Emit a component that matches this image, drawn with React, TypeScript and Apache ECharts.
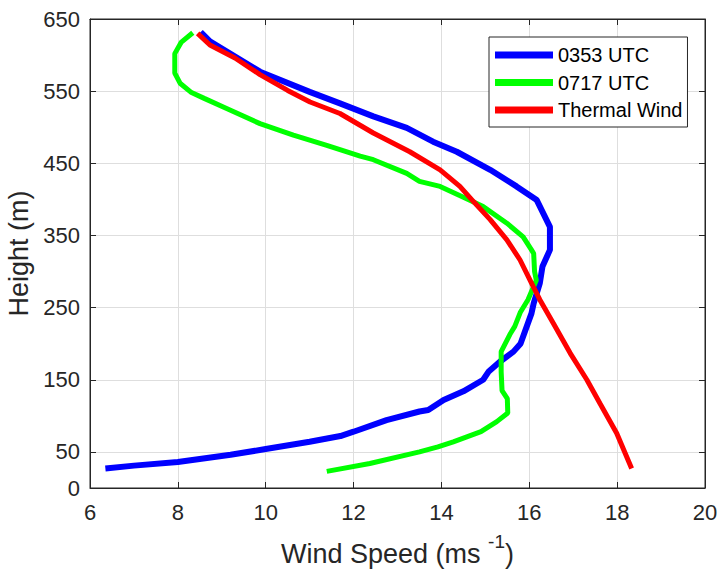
import React, { useEffect, useRef } from "react";
import * as echarts from "echarts";

// 0353 UTC
const blueSpeed = [6.35, 7.0, 8.0, 9.2, 10.0, 11.0, 11.7, 12.0, 12.75, 13.5, 13.7, 14.05, 14.5, 14.95, 15.07, 15.33, 15.64, 15.8, 16.05, 16.1, 16.24, 16.3, 16.47, 16.47, 16.17, 15.71, 15.11, 14.35, 13.81, 13.21, 12.45, 11.69, 11.0, 9.87, 8.73, 8.52];
const blueHeight = [27, 31, 36, 46, 54, 64, 72, 78, 94, 106, 108, 122, 134, 150, 161, 175, 189, 200, 242, 256, 284, 307, 330, 362, 399, 418, 441, 466, 480, 499, 515, 533, 549, 577, 619, 632];

// 0717 UTC
const greenSpeed = [11.39, 12.37, 13.5, 13.92, 14.27, 14.9, 15.26, 15.51, 15.5, 15.38, 15.36, 15.36, 15.56, 15.67, 15.8, 15.97, 16.16, 16.12, 16.1, 16.05, 15.86, 15.49, 14.95, 14.5, 13.97, 13.5, 13.21, 12.45, 12.15, 11.39, 10.63, 9.87, 9.11, 8.6, 8.31, 8.05, 7.93, 7.93, 8.08, 8.34];
const greenHeight = [23, 34, 50, 57, 64, 78, 92, 104, 124, 135, 161, 189, 213, 224, 244, 261, 288, 300, 325, 330, 348, 367, 390, 403, 418, 425, 436, 455, 460, 475, 489, 505, 526, 540, 548, 561, 575, 602, 618, 631];

// Thermal Wind
const redSpeed = [8.45, 8.73, 9.3, 9.87, 10.5, 11.01, 11.69, 12.45, 13.28, 13.97, 14.42, 14.73, 15.11, 15.49, 15.79, 16.09, 16.24, 16.55, 16.93, 17.31, 17.61, 17.99, 18.33];
const redHeight = [630, 614, 596, 573, 551, 535, 519, 492, 466, 441, 418, 397, 372, 344, 316, 279, 261, 228, 187, 150, 117, 76, 27];

const seriesNames = ["0353 UTC", "0717 UTC", "Thermal Wind"];
const yTickValues = [0, 50, 150, 250, 350, 450, 550, 650];

const FONT = "'Liberation Sans', Arial, sans-serif";
const AX = "#262626";
const GRID = "#dedede";

const zip = (xs: number[], ys: number[]) => xs.map((x, i) => [x, ys[i]]);

export default function App() {
  const ref = useRef<HTMLDivElement>(null);
  useEffect(() => {
    if (!ref.current) return;
    const chart = echarts.init(ref.current, null, { renderer: "svg" });
    const tickStyle = { show: true, inside: true, length: 6, lineStyle: { color: AX, width: 1 } };
    const axisLine = { show: true, onZero: false, lineStyle: { color: AX, width: 1 } };
    chart.setOption({
      animation: false,
      backgroundColor: "#fff",
      grid: {
        left: 90,
        top: 19,
        right: 13,
        bottom: 81,
        containLabel: false,
        outerBoundsMode: "none",
        show: true,
        borderColor: AX,
        borderWidth: 1,
        backgroundColor: "transparent",
      },
      legend: {
        left: 489,
        top: 37,
        orient: "vertical",
        align: "left",
        itemWidth: 58,
        itemHeight: 7,
        itemGap: 7.5,
        padding: [8, 5, 7, 6],
        backgroundColor: "#fff",
        borderColor: AX,
        borderWidth: 1,
        borderRadius: 0,
        textStyle: { fontSize: 20, color: "#000", fontFamily: FONT },
        data: seriesNames.map((n) => ({ name: n, icon: "rect" })),
      },
      xAxis: [
        {
          type: "value",
          min: 6,
          max: 20,
          interval: 2,
          position: "bottom",
          axisLine,
          axisTick: tickStyle,
          axisLabel: { fontSize: 22, color: AX, fontFamily: FONT, margin: 13 },
          splitLine: { show: true, lineStyle: { color: GRID, width: 1 } },
          name: "{a|Wind Speed (ms }{b|-1}{a|)}",
          nameLocation: "middle",
          nameGap: 44,
          nameTextStyle: {
            fontFamily: FONT,
            color: AX,
            rich: {
              a: { fontSize: 27, lineHeight: 35, color: AX, fontFamily: FONT, verticalAlign: "bottom" },
              b: { fontSize: 19, lineHeight: 19, color: AX, fontFamily: FONT, verticalAlign: "top" },
            },
          },
        },
        {
          type: "value",
          min: 6,
          max: 20,
          interval: 2,
          position: "top",
          axisLine,
          axisTick: tickStyle,
          axisLabel: { show: false },
          splitLine: { show: false },
        },
      ],
      yAxis: [
        {
          type: "value",
          min: 0,
          max: 650,
          position: "left",
          axisLine,
          axisTick: { ...tickStyle, customValues: yTickValues },
          axisLabel: { fontSize: 22, color: AX, fontFamily: FONT, margin: 10, customValues: yTickValues },
          splitLine: { show: true, lineStyle: { color: GRID, width: 1 } },
          name: "Height (m)",
          nameLocation: "middle",
          nameGap: 53,
          nameTextStyle: { fontSize: 27, color: AX, fontFamily: FONT },
        },
        {
          type: "value",
          min: 0,
          max: 650,
          position: "right",
          axisLine,
          axisTick: { ...tickStyle, customValues: yTickValues },
          axisLabel: { show: false, customValues: yTickValues },
          splitLine: { show: false },
        },
      ],
      series: [
        {
          name: seriesNames[0],
          type: "line",
          data: zip(blueSpeed, blueHeight),
          showSymbol: false,
          symbol: "none",
          color: "#0000ff",
          lineStyle: { color: "#0000ff", width: 6 },
          z: 2,
        },
        {
          name: seriesNames[1],
          type: "line",
          data: zip(greenSpeed, greenHeight),
          showSymbol: false,
          symbol: "none",
          color: "#00ff00",
          lineStyle: { color: "#00ff00", width: 5 },
          z: 3,
        },
        {
          name: seriesNames[2],
          type: "line",
          data: zip(redSpeed, redHeight),
          showSymbol: false,
          symbol: "none",
          color: "#ff0000",
          lineStyle: { color: "#ff0000", width: 5 },
          z: 4,
        },
      ],
    });
    return () => chart.dispose();
  }, []);
  return <div ref={ref} style={{ width: 718, height: 569, position: "fixed", left: 0, top: 0 }} />;
}
